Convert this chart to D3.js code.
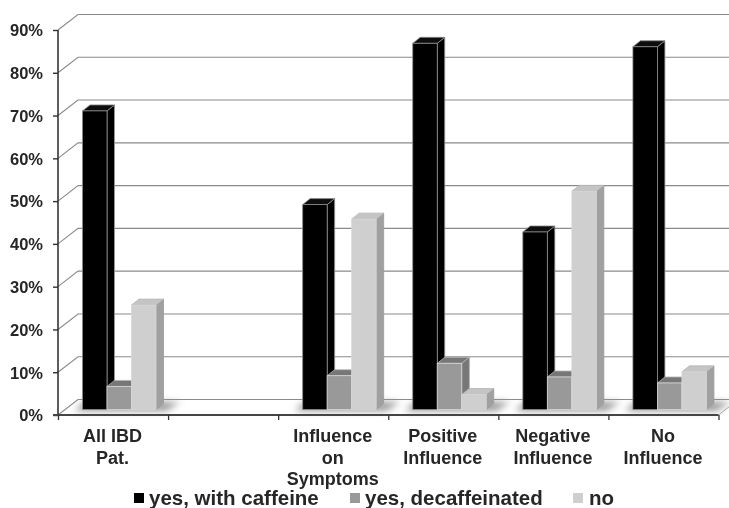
<!DOCTYPE html>
<html><head><meta charset="utf-8">
<script src="https://cdn.jsdelivr.net/npm/d3@7"></script>
<style>html,body{margin:0;padding:0;background:#fff}svg{display:block}
text{font-family:"Liberation Sans",Arial,sans-serif;font-weight:bold;fill:#262626}</style>
</head><body><div id="c"></div>
<script>
const categories=[["All IBD","Pat."],[],["Influence","on","Symptoms"],["Positive","Influence"],["Negative","Influence"],["No","Influence"]];
const seriesNames=["yes, with caffeine","yes, decaffeinated","no"];
const withCaffeine=[69.8,47.9,85.6,41.5,84.8];
const decaffeinated=[5.4,7.9,10.8,7.6,6.2];
const noValues=[24.4,44.5,3.5,51,8.8];
const barCategories=[0,2,3,4,5];
const colors=["#000000","#999999","#cfcfcf"];
const sideColors=["#000000","#777777","#a0a0a0"];
const topColors=["#111111","#777777","#c4c4c4"];
const yTicks=d3.range(0,100,10);

const W=729,H=508,dx=20,dy=-15.5,bdx=7.5,bdy=-6;
const svg=d3.select("#c").append("svg").attr("width",W).attr("height",H);
const defs=svg.append("defs");
defs.append("filter").attr("id","blur").attr("x","-30%").attr("y","-100%").attr("width","160%").attr("height","300%")
  .append("feGaussianBlur").attr("stdDeviation",3.5);
defs.append("filter").attr("id","soft").append("feGaussianBlur").attr("stdDeviation",0.35);
const root=svg.append("g").attr("filter","url(#soft)");

const y=d3.scaleLinear().domain([0,90]).range([415,30]);
const x=d3.scaleBand().domain(d3.range(categories.length)).range([58,718.5]);
const inner=d3.scaleBand().domain([0,1,2]).range([24.5,98]);

// walls
root.selectAll(".grid").data(yTicks).join("path").attr("class","grid")
  .attr("d",d=>`M${x.range()[0]},${y(d)}L${x.range()[0]+dx},${y(d)+dy}L${x.range()[1]+dx},${y(d)+dy}`)
  .attr("fill","none")
  .attr("stroke","#8a8a8a").attr("stroke-width",1.1);
root.append("path").attr("d",`M${x.range()[1]},415L${x.range()[1]+dx},${415+dy}`).attr("stroke","#aaa").attr("fill","none");

// shadows
const shadow=root.append("g");
barCategories.forEach(c=>{
  const x0=x(c)+inner(0),x1=x(c)+inner(2)+inner.bandwidth();
  shadow.append("path").attr("d",`M${x0-8},411L${x0+2},402L${x1+24},402L${x1+10},411Z`)
    .attr("fill","#999").attr("filter","url(#blur)");
});

// bars
const series=[withCaffeine,decaffeinated,noValues];
const barData=[];
barCategories.forEach((c,i)=>series.forEach((s,k)=>barData.push({c,k,v:s[i]})));
const bars=root.append("g").selectAll("g").data(barData).join("g");
const bx=d=>x(d.c)+inner(d.k), bw=inner.bandwidth(), by=d=>y(d.v)-5.5, b0=y(0)-5.5;
bars.append("path").attr("d",d=>`M${bx(d)+bw},${by(d)}l${bdx},${bdy}V${b0+bdy}l${-bdx},${-bdy}Z`)
  .attr("fill",d=>sideColors[d.k]).attr("stroke","#9a9a9a").attr("stroke-width",0.8);
bars.append("path").attr("d",d=>`M${bx(d)},${by(d)}l${bdx},${bdy}h${bw}l${-bdx},${-bdy}Z`)
  .attr("fill",d=>topColors[d.k]).attr("stroke",d=>d.k?"#b5b5b5":"#8a8a8a").attr("stroke-width",0.8);
bars.append("rect").attr("x",bx).attr("y",by).attr("width",bw).attr("height",d=>b0-by(d))
  .attr("fill",d=>colors[d.k]).attr("stroke",d=>d.k?"#d8d8d8":"#8a8a8a").attr("stroke-width",0.8);

// axes
const axisY=d3.axisLeft(y).tickValues(yTicks).tickFormat(d=>d+"%").tickSize(5).tickPadding(10);
const gy=root.append("g").attr("transform","translate(58,0)").call(axisY);
gy.selectAll("text").style("font-size","16.5px").attr("dy","0.35em");
gy.select(".domain").attr("stroke","#333").attr("stroke-width",1.6).attr("d","M0,415V30");
gy.selectAll("line").attr("stroke","#333").attr("stroke-width",1.4);

const axisX=d3.axisBottom(d3.scaleLinear().domain([0,6]).range(x.range())).tickValues(d3.range(7)).tickFormat("").tickSize(5);
const gx=root.append("g").attr("transform","translate(0,415)").call(axisX);
gx.select(".domain").attr("stroke","#444").attr("stroke-width",1.8).attr("d",`M${x.range()[0]-5},0H${x.range()[1]}`);
gx.selectAll("line").attr("stroke","#333").attr("stroke-width",1.3);

root.selectAll(".cat").data(categories).join("text").attr("class","cat")
  .attr("text-anchor","middle").style("font-size","18px")
  .attr("transform",(d,i)=>`translate(${x(i)+x.bandwidth()/2-0.5},442)`)
  .selectAll("tspan").data(d=>d).join("tspan").attr("x",0).attr("y",(d,i)=>i*21.5).text(d=>d);

// legend
const lx=[134,350,573],ltx=[149,365,589];
const leg=root.selectAll(".leg").data(seriesNames).join("g").attr("class","leg");
leg.append("rect").attr("x",(d,i)=>lx[i]).attr("y",493).attr("width",10).attr("height",10).attr("fill",(d,i)=>colors[i]);
leg.append("text").attr("x",(d,i)=>ltx[i]).attr("y",505).style("font-size","20.5px").text(d=>d);
</script></body></html>
